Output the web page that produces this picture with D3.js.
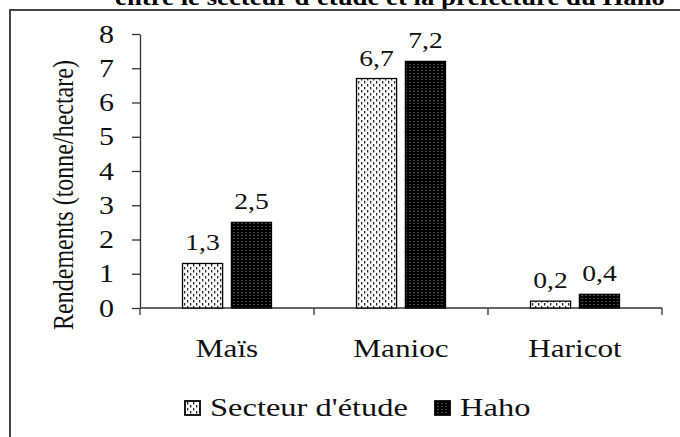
<!DOCTYPE html>
<html><head><meta charset="utf-8">
<script src="https://cdn.jsdelivr.net/npm/d3@7"></script>
<style>body{margin:0;background:#fff}svg{display:block}</style>
</head><body>
<script>
const categories = ["Maïs", "Manioc", "Haricot"];
const seriesNames = ["Secteur d'étude", "Haho"];
const secteurValues = [1.3, 6.7, 0.2];
const hahoValues = [2.5, 7.2, 0.4];
const valueLabels = [["1,3", "6,7", "0,2"], ["2,5", "7,2", "0,4"]];
const yTicks = [0, 1, 2, 3, 4, 5, 6, 7, 8];
const titleText = "entre le secteur d'étude et la préfecture du Haho";
const yLabel = "Rendements (tonne/hectare)";

const W = 680, H = 437;
const SX = 1.2; // horizontal stretch of the reference's lettering
const FONT = "Liberation Serif";
const TXT = "#111";
const svg = d3.select("body").append("svg").attr("width", W).attr("height", H);
const defs = svg.append("defs");

// pattern: secteur (white with dashes)
const p1 = defs.append("pattern").attr("id", "pSect").attr("patternUnits", "userSpaceOnUse")
  .attr("width", 6).attr("height", 6);
p1.append("rect").attr("width", 6).attr("height", 6).attr("fill", "#fff");
p1.append("rect").attr("x", 1).attr("y", 0).attr("width", 1.3).attr("height", 2.5).attr("fill", "#222");
p1.append("rect").attr("x", 4).attr("y", 3).attr("width", 1.3).attr("height", 2.5).attr("fill", "#222");
// pattern: haho (black with light dots)
const p2 = defs.append("pattern").attr("id", "pHaho").attr("patternUnits", "userSpaceOnUse")
  .attr("width", 4).attr("height", 3);
p2.append("rect").attr("width", 4).attr("height", 3).attr("fill", "#000");
p2.append("rect").attr("x", 1.5).attr("y", 1).attr("width", 1).attr("height", 1).attr("fill", "#999");
const fills = ["url(#pSect)", "url(#pHaho)"];

// title (clipped at top)
svg.append("text").attr("x", 390).attr("y", 5).attr("text-anchor", "middle")
  .style("font-family", FONT).style("font-weight", "bold").style("font-size", "24px").attr("fill", "#000")
  .attr("textLength", 550).attr("lengthAdjust", "spacingAndGlyphs").text(titleText);

// frame
svg.append("path").attr("d", `M${W+5},10 H10 V${H+5}`).attr("fill", "none")
  .attr("stroke", "#444").attr("stroke-width", 2);

const x0 = 140, x1 = 662, yTop = 34, yBot = 308;
const y = d3.scaleLinear().domain([0, 8]).range([yBot, yTop]);
const xb = d3.scaleBand().domain(categories).range([x0, x1]).paddingInner(0).paddingOuter(0);
const xs = d3.scaleBand().domain([0, 1]).range([0, xb.bandwidth()]).paddingInner(0.18).paddingOuter(0.87);

// y axis
const yAxis = d3.axisLeft(y).tickValues(yTicks).tickSize(8).tickPadding(18).tickSizeOuter(0);
const gy = svg.append("g").attr("transform", `translate(${x0},0)`).call(yAxis);
gy.attr("font-family", null).attr("font-size", null);
gy.selectAll("text").style("font-family", FONT).style("font-size", "25px").attr("fill", TXT)
  .attr("x", -26 / SX).attr("transform", `scale(${SX},1)`);
gy.selectAll("line,path").attr("stroke", "#333").attr("stroke-width", 1.3);

// x axis
const gx = svg.append("g").attr("transform", `translate(0,${yBot})`);
gx.append("line").attr("x1", x0).attr("x2", x1).attr("stroke", "#333").attr("stroke-width", 1.3);
const bounds = [x0].concat(categories.map(c => xb(c) + xb.bandwidth()));
gx.selectAll("line.t").data(bounds).join("line").attr("class", "t")
  .attr("x1", d => d).attr("x2", d => d).attr("y1", 0).attr("y2", 7)
  .attr("stroke", "#333").attr("stroke-width", 1.3);
gx.selectAll("text").data(categories).join("text")
  .attr("transform", d => `translate(${xb(d) + xb.bandwidth() / 2},49) scale(${SX},1)`)
  .attr("text-anchor", "middle").style("font-family", FONT).style("font-size", "26px")
  .attr("fill", TXT).text(d => d);

// bars
const series = [secteurValues, hahoValues];
series.forEach((vals, si) => {
  const g = svg.append("g");
  g.selectAll("rect").data(vals).join("rect")
    .attr("x", (d, i) => xb(categories[i]) + xs(si))
    .attr("y", d => y(d)).attr("width", xs.bandwidth()).attr("height", d => yBot - y(d))
    .attr("fill", fills[si]).attr("stroke", "#000").attr("stroke-width", 1.3);
  g.selectAll("text").data(vals).join("text")
    .attr("transform", (d, i) => `translate(${xb(categories[i]) + xs(si) + xs.bandwidth() / 2},${y(d) - 13}) scale(${SX},1)`)
    .attr("text-anchor", "middle").style("font-family", FONT).style("font-size", "23px").attr("fill", TXT)
    .text((d, i) => valueLabels[si][i]);
});

// y label
svg.append("text").attr("transform", `translate(73,${(yTop + yBot) / 2 + 24}) scale(${SX},1) rotate(-90)`)
  .attr("text-anchor", "middle").style("font-family", FONT).style("font-size", "24px").attr("fill", TXT)
  .text(yLabel);

// legend
const legX = [185, 435];
const lg = svg.append("g");
seriesNames.forEach((n, i) => {
  lg.append("rect").attr("x", legX[i]).attr("y", 401).attr("width", 15).attr("height", 14)
    .attr("fill", fills[i]).attr("stroke", "#000").attr("stroke-width", 1.8);
  lg.append("text").attr("transform", `translate(${legX[i] + 25},416) scale(1.25,1)`)
    .style("font-family", FONT).style("font-size", "26px").attr("fill", TXT).text(n);
});
</script>
</body></html>
